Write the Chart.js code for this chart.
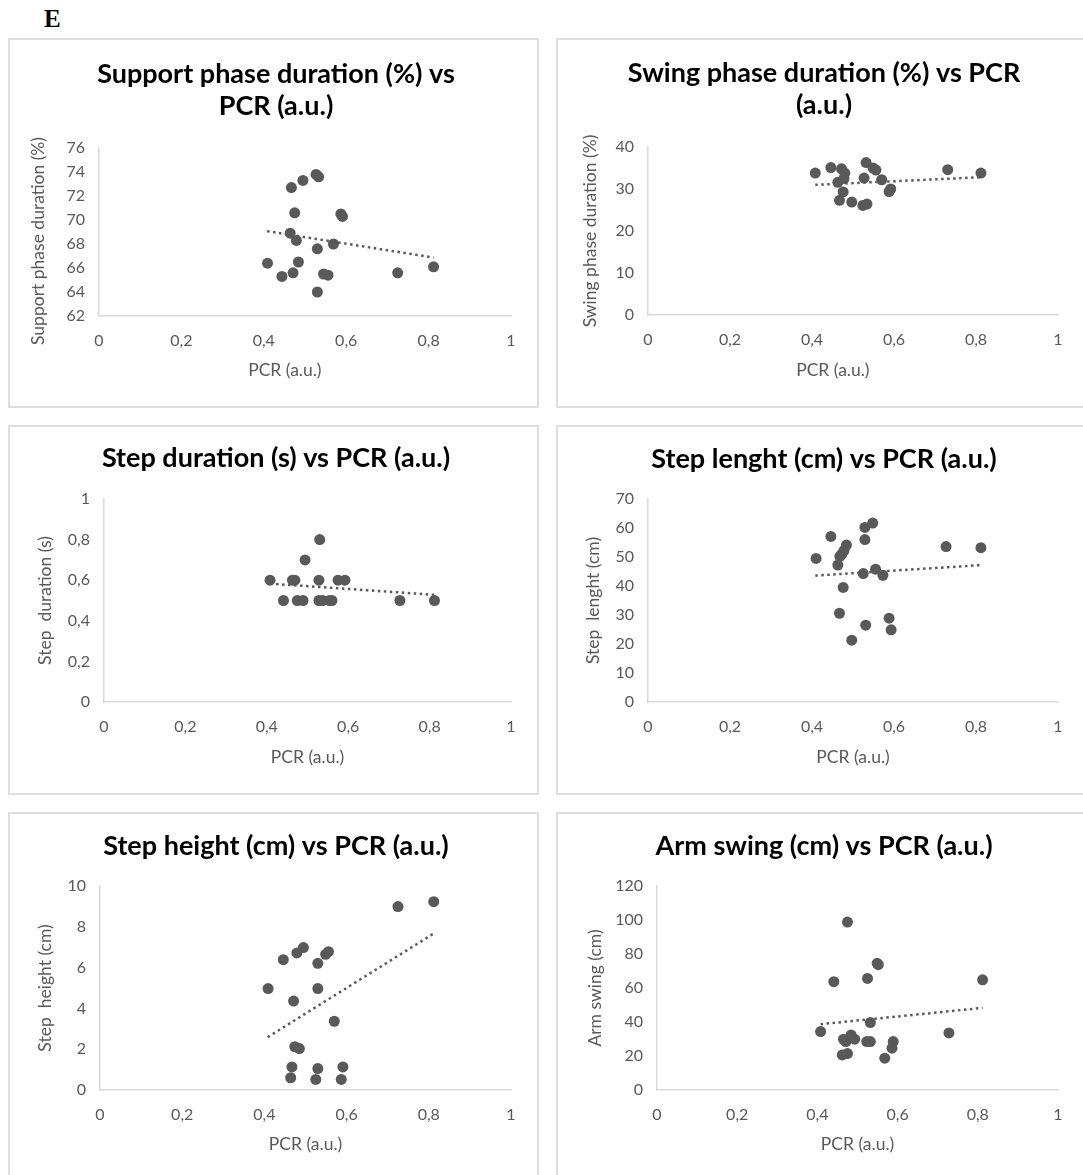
<!DOCTYPE html>
<html>
<head>
<meta charset="utf-8">
<script src="https://cdn.jsdelivr.net/npm/chart.js@4.4.0/dist/chart.umd.min.js"></script>
<style>
  html, body { margin: 0; padding: 0; background: #fff; }
  body { width: 1083px; height: 1175px; overflow: hidden; position: relative; }
  .fig-label { position: absolute; left: 44px; top: 5px; font: bold 25px "Liberation Serif", "DejaVu Serif", serif; color: #000; }
  .panel { position: absolute; width: 531px; height: 370px; border: 2px solid #dedede; box-sizing: border-box; background: #fff; }
  .panel canvas { display: block; }
</style>
</head>
<body>
<div class="fig-label">E</div>
<div class="panel" style="left:8px;top:38px"><canvas id="support" width="527" height="366"></canvas></div>
<div class="panel" style="left:556px;top:38px"><canvas id="swing" width="527" height="366"></canvas></div>
<div class="panel" style="left:8px;top:425px"><canvas id="duration" width="527" height="366"></canvas></div>
<div class="panel" style="left:556px;top:425px"><canvas id="length" width="527" height="366"></canvas></div>
<div class="panel" style="left:8px;top:812px"><canvas id="height" width="527" height="366"></canvas></div>
<div class="panel" style="left:556px;top:812px"><canvas id="arm" width="527" height="366"></canvas></div>

<script>
const markColor = '#595959';
const axisColor = '#d9d9d9';
const fontFamily = 'Lato, "Open Sans", sans-serif';

// shared x axis (PCR) and trendline span
const xTickLabels = ['0', '0,2', '0,4', '0,6', '0,8', '1'];
const trendX = [0.408, 0.812];

// Support phase duration (%)
const supportX = [0.467, 0.495, 0.527, 0.533, 0.475, 0.587, 0.591, 0.464, 0.479, 0.569, 0.530, 0.409, 0.484, 0.471, 0.444, 0.545, 0.556, 0.530, 0.725, 0.812];
const supportY = [72.7, 73.3, 73.8, 73.6, 70.6, 70.5, 70.3, 68.9, 68.3, 68.0, 67.6, 66.4, 66.5, 65.6, 65.3, 65.5, 65.4, 64.0, 65.6, 66.1];
const supportTrend = [69.07, 66.87];
const supportTicks = ['62', '64', '66', '68', '70', '72', '74', '76'];

// Swing phase duration (%)
const swingX = [0.408, 0.446, 0.472, 0.480, 0.478, 0.532, 0.549, 0.556, 0.527, 0.570, 0.463, 0.476, 0.588, 0.592, 0.467, 0.497, 0.524, 0.534, 0.731, 0.812];
const swingY = [33.8, 35.1, 34.8, 33.8, 32.5, 36.3, 35.0, 34.5, 32.6, 32.2, 31.6, 29.3, 29.4, 30.0, 27.3, 26.9, 26.1, 26.4, 34.6, 33.8];
const swingTrend = [31.0, 32.8];
const swingTicks = ['0', '10', '20', '30', '40'];

// Step duration (s)
const durationX = [0.408, 0.463, 0.469, 0.528, 0.575, 0.592, 0.530, 0.494, 0.441, 0.475, 0.489, 0.528, 0.537, 0.554, 0.560, 0.727, 0.812];
const durationY = [0.6, 0.6, 0.6, 0.6, 0.6, 0.6, 0.8, 0.7, 0.5, 0.5, 0.5, 0.5, 0.5, 0.5, 0.5, 0.5, 0.5];
const durationTrend = [0.583, 0.528];
const durationTicks = ['0', '0,2', '0,4', '0,6', '0,8', '1'];

// Step lenght (cm)
const lengthX = [0.410, 0.446, 0.484, 0.478, 0.473, 0.468, 0.463, 0.529, 0.548, 0.529, 0.525, 0.555, 0.573, 0.476, 0.467, 0.588, 0.531, 0.593, 0.497, 0.727, 0.812];
const lengthY = [49.5, 57.1, 54.1, 52.2, 51.0, 50.2, 47.2, 60.2, 61.7, 56.0, 44.3, 45.8, 43.7, 39.5, 30.6, 28.9, 26.5, 24.9, 21.3, 53.6, 53.2];
const lengthTrend = [43.6, 47.2];
const lengthTicks = ['0', '10', '20', '30', '40', '50', '60', '70'];

// Step height (cm)
const heightX = [0.409, 0.446, 0.479, 0.495, 0.530, 0.549, 0.556, 0.530, 0.471, 0.570, 0.474, 0.485, 0.467, 0.464, 0.530, 0.525, 0.591, 0.587, 0.725, 0.812];
const heightY = [4.97, 6.39, 6.72, 6.98, 6.21, 6.65, 6.78, 4.97, 4.36, 3.37, 2.12, 2.03, 1.13, 0.60, 1.05, 0.52, 1.13, 0.52, 8.99, 9.23];
const heightTrend = [2.59, 7.67];
const heightTicks = ['0', '2', '4', '6', '8', '10'];

// Arm swing (cm)
const armX = [0.408, 0.441, 0.475, 0.525, 0.549, 0.552, 0.532, 0.465, 0.471, 0.484, 0.493, 0.523, 0.532, 0.462, 0.475, 0.568, 0.589, 0.586, 0.728, 0.812];
const armY = [34.4, 63.7, 98.8, 65.6, 74.5, 73.7, 39.7, 29.9, 28.5, 32.4, 29.9, 28.5, 28.5, 20.6, 21.4, 18.7, 28.5, 24.6, 33.6, 64.8];
const armTrend = [38.7, 48.3];
const armTicks = ['0', '20', '40', '60', '80', '100', '120'];

const toPoints = (xs, ys) => xs.map((x, i) => ({ x, y: ys[i] }));
// trailing no-break spaces nudge a centred axis title, like Excel does in the top row
const pad = n => '\u00a0'.repeat(n);

function scatterChart(id, o) {
  const ctx = document.getElementById(id);
  if (!ctx || typeof Chart === 'undefined') return null;

  return new Chart(ctx.getContext('2d'), {
    type: 'scatter',
    data: {
      datasets: [
        {
          data: toPoints(trendX, o.trend),
          showLine: true,
          borderColor: markColor,
          borderWidth: 2.5,
          borderDash: [2.5, 3.5],
          pointRadius: 0,
          order: 0
        },
        {
          data: toPoints(o.xs, o.ys),
          backgroundColor: markColor,
          borderWidth: 0,
          pointRadius: 5.5,
          order: 1
        }
      ]
    },
    options: {
      responsive: false,
      animation: false,
      events: [],
      layout: { padding: { left: 5, right: 0, top: 0, bottom: 0 } },
      plugins: {
        legend: { display: false },
        tooltip: { enabled: false },
        title: {
          display: true,
          text: o.title,
          color: '#000',
          font: { family: fontFamily, size: 27, weight: 'bold', lineHeight: 32 / 27 },
          padding: { top: o.titleTop, bottom: o.titleBottom }
        }
      },
      scales: {
        x: {
          type: 'linear',
          min: 0,
          max: 1,
          afterFit: s => { s.height = o.xAxisH; },
          grid: { display: false, drawTicks: false },
          border: { display: true, color: axisColor, width: 1.5 },
          ticks: {
            stepSize: 0.2,
            padding: 15,
            color: markColor,
            font: { family: fontFamily, size: 16 },
            callback: (v, i) => xTickLabels[i]
          },
          title: {
            display: true,
            text: o.xTitle || 'PCR (a.u.)',
            color: markColor,
            font: { family: fontFamily, size: 17.5, lineHeight: 1.2 },
            padding: { top: 0, bottom: 25.5 }
          }
        },
        y: {
          min: o.yMin,
          max: o.yMax,
          afterFit: s => { s.width = o.yAxisW; },
          grid: { display: false, drawTicks: false },
          border: { display: true, color: axisColor, width: 1.5 },
          ticks: {
            stepSize: o.yStep,
            padding: 14,
            color: markColor,
            font: { family: fontFamily, size: 16 },
            callback: (v, i) => o.yTicks[i]
          },
          title: {
            display: true,
            text: o.yTitle,
            color: markColor,
            font: { family: fontFamily, size: 17.5, lineHeight: 1.2 },
            padding: { top: o.yTitlePad, bottom: 0 }
          }
        },
        // empty right-hand axis: keeps the plot off the right edge without
        // pulling the centred chart title to the left
        spacer: {
          type: 'linear',
          position: 'right',
          grid: { display: false, drawTicks: false },
          border: { display: false },
          ticks: { display: false },
          afterFit: s => { s.width = o.rightPad; }
        }
      }
    }
  });
}

scatterChart('support', {
  title: ['Support phase duration (%) vs', 'PCR (a.u.)'], yTitle: 'Support phase duration (%)' + pad(4),
  xTitle: 'PCR (a.u.)' + pad(9),
  xs: supportX, ys: supportY, trend: supportTrend, yTicks: supportTicks,
  yMin: 62, yMax: 76, yStep: 2,
  titleTop: 18, titleBottom: 26, yAxisW: 84, xAxisH: 90, rightPad: 26, yTitlePad: 13
});

scatterChart('swing', {
  title: ['Swing phase duration (%) vs PCR', '(a.u.)'], yTitle: 'Swing phase duration (%)',
  xTitle: 'PCR (a.u.)' + pad(9),
  xs: swingX, ys: swingY, trend: swingTrend, yTicks: swingTicks,
  yMin: 0, yMax: 40, yStep: 10,
  titleTop: 17, titleBottom: 26, yAxisW: 85, xAxisH: 91, rightPad: 27, yTitlePad: 16.5
});

scatterChart('duration', {
  title: 'Step duration (s) vs PCR (a.u.)', yTitle: 'Step  duration (s)',
  xs: durationX, ys: durationY, trend: durationTrend, yTicks: durationTicks,
  yMin: 0, yMax: 1, yStep: 0.2,
  titleTop: 15, titleBottom: 25, yAxisW: 89, xAxisH: 91, rightPad: 26, yTitlePad: 19.5
});

scatterChart('length', {
  title: 'Step lenght (cm) vs PCR (a.u.)', yTitle: 'Step  lenght (cm)',
  xs: lengthX, ys: lengthY, trend: lengthTrend, yTicks: lengthTicks,
  yMin: 0, yMax: 70, yStep: 10,
  titleTop: 16, titleBottom: 24, yAxisW: 85, xAxisH: 91, rightPad: 27, yTitlePad: 19.5
});

scatterChart('height', {
  title: 'Step height (cm) vs PCR (a.u.)', yTitle: 'Step  height (cm)',
  xs: heightX, ys: heightY, trend: heightTrend, yTicks: heightTicks,
  yMin: 0, yMax: 10, yStep: 2,
  titleTop: 16, titleBottom: 24, yAxisW: 85, xAxisH: 90, rightPad: 26, yTitlePad: 19.5
});

scatterChart('arm', {
  title: 'Arm swing (cm) vs PCR (a.u.)', yTitle: 'Arm swing (cm)',
  xs: armX, ys: armY, trend: armTrend, yTicks: armTicks,
  yMin: 0, yMax: 120, yStep: 20,
  titleTop: 16, titleBottom: 24, yAxisW: 94, xAxisH: 90, rightPad: 27, yTitlePad: 21.5
});
</script>
</body>
</html>
